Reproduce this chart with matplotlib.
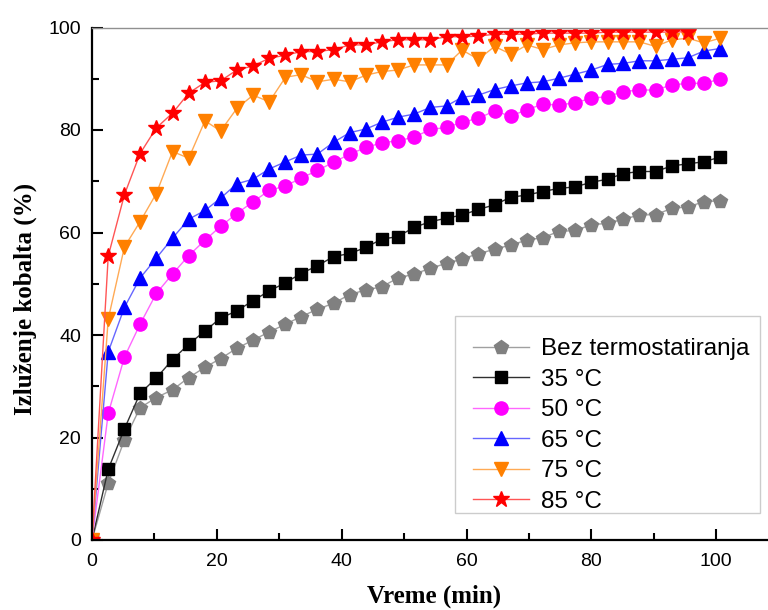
import matplotlib
matplotlib.use("Agg")
import matplotlib.pyplot as plt
from matplotlib.patches import Rectangle
from matplotlib.ticker import MultipleLocator

# time points (min)
time = [0, 2.6, 5.2, 7.7, 10.3, 12.9, 15.5, 18.1, 20.6, 23.2,
        25.8, 28.4, 31.0, 33.5, 36.1, 38.7, 41.3, 43.9, 46.4, 49.0,
        51.6, 54.2, 56.8, 59.3, 61.9, 64.5, 67.1, 69.7, 72.2, 74.8,
        77.4, 80.0, 82.6, 85.1, 87.7, 90.3, 92.9, 95.5, 98.0, 100.6]

bez = [0, 11.1, 19.5, 25.8, 27.8, 29.3, 31.7, 33.7, 35.4, 37.4,
       39.0, 40.6, 42.1, 43.6, 45.0, 46.2, 47.9, 48.8, 49.4, 51.1,
       51.9, 53.0, 54.0, 54.8, 55.9, 56.7, 57.6, 58.5, 59.0, 60.2,
       60.4, 61.5, 61.8, 62.6, 63.4, 63.5, 64.7, 65.0, 66.0, 66.2]

t35 = [0, 13.8, 21.7, 28.6, 31.6, 35.2, 38.2, 40.8, 43.3, 44.7,
       46.7, 48.6, 50.2, 52.0, 53.5, 55.3, 55.9, 57.1, 58.7, 59.2,
       61.0, 62.1, 62.8, 63.4, 64.5, 65.4, 66.9, 67.3, 68.0, 68.6,
       68.9, 69.8, 70.4, 71.5, 71.9, 71.9, 73.0, 73.4, 73.8, 74.7]

t50 = [0, 24.7, 35.7, 42.1, 48.1, 51.9, 55.5, 58.5, 61.2, 63.7,
       66.0, 68.2, 69.1, 70.6, 72.1, 73.7, 75.3, 76.6, 77.5, 77.9,
       78.6, 80.1, 80.5, 81.5, 82.3, 83.7, 82.7, 84.0, 85.0, 84.9,
       85.3, 86.2, 86.5, 87.5, 87.8, 87.8, 88.8, 89.1, 89.1, 89.9]

t65 = [0, 36.7, 45.4, 51.1, 55.0, 58.9, 62.6, 64.3, 66.7, 69.5,
       70.4, 72.4, 73.8, 75.1, 75.3, 77.6, 79.5, 80.2, 81.5, 82.5,
       83.1, 84.4, 84.7, 86.4, 86.8, 87.9, 88.6, 89.2, 89.4, 90.1,
       90.9, 91.7, 92.8, 93.0, 93.5, 93.5, 93.8, 94.1, 95.4, 95.9]

t75 = [0, 43.1, 57.2, 62.1, 67.6, 75.8, 74.5, 81.8, 79.8, 84.2,
       86.8, 85.5, 90.3, 90.8, 89.4, 89.9, 89.4, 90.7, 91.4, 91.7,
       92.7, 92.7, 92.7, 95.6, 93.8, 96.3, 94.8, 96.6, 95.7, 96.6,
       97.0, 97.2, 97.2, 97.2, 97.2, 96.3, 97.6, 97.9, 97.0, 97.9]

t85 = [0, 55.4, 67.4, 75.4, 80.4, 83.3, 87.2, 89.3, 89.6, 91.7,
       92.5, 94.0, 94.6, 95.3, 95.3, 95.7, 96.6, 96.6, 97.2, 97.6,
       97.6, 97.6, 98.2, 98.2, 98.3, 98.7, 98.7, 98.7, 98.9, 98.9,
       98.9, 98.9, 99.1, 99.1, 99.1, 99.1, 99.1, 99.2]

labels = ["Bez termostatiranja", "35 \u00b0C", "50 \u00b0C",
          "65 \u00b0C", "75 \u00b0C", "85 \u00b0C"]

plt.rcParams['font.family'] = ['Liberation Sans', 'DejaVu Sans']

W, H = 768, 610
fig = plt.figure(figsize=(W / 100, H / 100), dpi=100)
ax = fig.add_axes([92 / W, 70 / H, 676 / W, 512.5 / H])

# (values, marker colour, line colour, marker, size)
series = [
    (bez, '#808080', '#a0a0a0', 'p', 10),
    (t35, '#000000', '#303030', 's', 8.5),
    (t50, '#ff00ff', '#ff66ff', 'o', 9.5),
    (t65, '#0000ff', '#6666ff', '^', 10),
    (t75, '#ff8000', '#ffaa55', 'v', 10),
    (t85, '#ff0000', '#ff5555', '*', 12),
]

for (vals, mc, lc, mk, ms), lab in zip(series, labels):
    ax.plot(time[:len(vals)], vals, color=lc, lw=1.0, marker=mk,
            markersize=ms, markerfacecolor=mc, markeredgecolor=mc,
            label=lab)

ax.set_xlim(0, 108.3)
ax.set_ylim(0, 100)

ax.xaxis.set_major_locator(MultipleLocator(20))
ax.xaxis.set_minor_locator(MultipleLocator(10))
ax.yaxis.set_major_locator(MultipleLocator(20))
ax.yaxis.set_minor_locator(MultipleLocator(10))

ax.tick_params(which='both', direction='in', top=False, right=False,
               width=1.5, labelsize=14)
ax.tick_params(which='major', length=8)
ax.tick_params(which='minor', length=5)
ax.tick_params(axis='x', pad=9)
ax.tick_params(axis='y', pad=8)

ax.spines['right'].set_visible(False)
ax.spines['top'].set_color('#909090')
ax.spines['top'].set_linewidth(1.0)
for s in ('left', 'bottom'):
    ax.spines[s].set_linewidth(1.6)

lab_font = dict(family='Liberation Serif', weight='bold', size=18)
ax.set_xlabel("Vreme (min)", va='center', **lab_font)
ax.set_ylabel("Izluženje kobalta (%)", va='center', **lab_font)
ax.xaxis.set_label_coords(0.506, -0.11)
ax.yaxis.set_label_coords(-0.099, 0.47)

# legend entries without frame, box drawn separately (more room on top)
leg = ax.legend(loc='upper left', bbox_to_anchor=(460 / W, 1 - 325 / H),
                bbox_transform=fig.transFigure, borderaxespad=0,
                fontsize=17.5, frameon=False, handlelength=2.3,
                labelspacing=0.35, handletextpad=0.5, borderpad=0.55)
box = Rectangle((455 / W, 1 - 513 / H), 305 / W, 197 / H,
                transform=fig.transFigure, fill=True, facecolor='white',
                edgecolor='#cccccc', lw=1.0, zorder=4)
ax.add_artist(box)
box.set_clip_on(False)
leg.set_zorder(5)

fig.savefig("out.png", dpi=100)
